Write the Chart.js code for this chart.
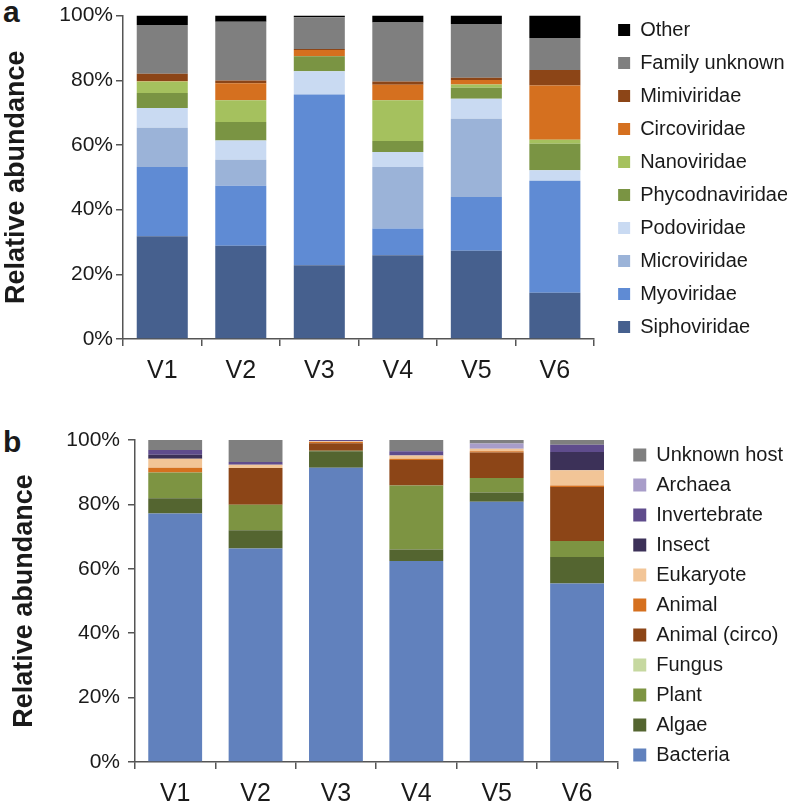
<!DOCTYPE html>
<html>
<head>
<meta charset="utf-8">
<script src="https://cdn.jsdelivr.net/npm/chart.js@4.4.1/dist/chart.umd.min.js"></script>
<style>
  html, body { margin: 0; padding: 0; background: #fff; }
  body { width: 787px; height: 808px; position: relative; overflow: hidden; font-family: "Liberation Sans", Arial, Helvetica, sans-serif; }
  canvas { position: absolute; left: 0; }
  #cA { top: 0; }
  #cB { top: 410px; }
  .panel { position: absolute; left: 3px; font-weight: bold; font-size: 30px; line-height: 30px; color: #1a1a1a; }
</style>
</head>
<body>
<div class="panel" style="top:-3px;">a</div>
<div class="panel" style="top:427px;">b</div>
<canvas id="cA" width="787" height="410"></canvas>
<canvas id="cB" width="787" height="398"></canvas>
<script>
// ---- shared ----
const categories = ['V1', 'V2', 'V3', 'V4', 'V5', 'V6'];
const yTickValues = [0, 20, 40, 60, 80, 100];
const yAxisTitle = 'Relative abundance';

// ---- panel a: viral families (% of reads) ----
const siphoviridae    = [31.8, 28.8, 22.8, 25.9, 27.3, 14.3];
const myoviridae      = [21.4, 18.6, 52.8,  8.3, 16.6, 34.6];
const microviridae    = [12.1,  8.0,  0.0, 19.0, 24.2,  0.0];
const podoviridae     = [ 6.1,  6.0,  7.2,  4.6,  6.2,  3.3];
const phycodnaviridae = [ 4.7,  5.7,  4.6,  3.4,  3.4,  8.2];
const nanoviridae     = [ 3.5,  6.7,  0.0, 12.6,  1.0,  1.2];
const circoviridae    = [ 0.2,  5.3,  2.0,  4.8,  1.4, 16.8];
const mimiviridae     = [ 2.2,  0.8,  0.3,  1.0,  0.7,  4.8];
const familyUnknown   = [15.1, 18.2,  9.8, 18.3, 16.6,  9.9];
const otherFamily     = [ 2.9,  1.9,  0.5,  2.1,  2.6,  6.9];

// ---- panel b: hosts (% of reads) ----
const bacteria     = [77.2, 66.3, 91.4, 62.4, 80.8, 55.4];
const algae        = [ 4.7,  5.7,  5.1,  3.6,  2.9,  8.3];
const plant        = [ 8.0,  7.9,  0.2, 19.9,  4.5,  4.9];
const fungus       = [ 0.0,  0.0,  0.0,  0.0,  0.0,  0.0];
const animalCirco  = [ 0.0, 11.4,  2.3,  7.9,  7.9, 16.8];
const animal       = [ 1.5,  0.0,  0.4,  0.4,  0.4,  0.5];
const eukaryote    = [ 2.8,  1.0,  0.2,  1.0,  0.8,  4.7];
const insect       = [ 1.2,  0.0,  0.0,  0.0,  0.0,  5.7];
const invertebrate = [ 1.5,  0.9,  0.4,  1.3,  0.0,  2.2];
const archaea      = [ 0.0,  0.0,  0.0,  0.0,  1.6,  0.0];
const unknownHost  = [ 3.1,  6.8,  0.0,  3.5,  1.1,  1.5];

const FONT = '"Liberation Sans", Arial, Helvetica, sans-serif';
const TXT = '#1a1a1a';
const AXIS = '#555555';

const legendShift = {
  id: 'legendShift',
  afterLayout(chart, args, opts) {
    const l = chart.legend;
    if (!l) return;
    l.left += opts.dx; l.right += opts.dx;
    l.top += opts.dy; l.bottom += opts.dy;
  }
};

function makeChart(id, datasets, cfg) {
  return new Chart(document.getElementById(id), {
    type: 'bar',
    data: { labels: categories, datasets: datasets },
    plugins: [legendShift],
    options: {
      responsive: false,
      animation: false,
      devicePixelRatio: 1,
      layout: { padding: { top: cfg.padTop, left: 0, right: 0, bottom: 0 } },
      datasets: { bar: { barPercentage: cfg.barPct, categoryPercentage: 1.0, borderWidth: 0 } },
      scales: {
        x: {
          stacked: true,
          offset: true,
          afterFit(s) { s.height = cfg.xHeight; },
          grid: { display: true, drawOnChartArea: false, drawTicks: true, tickLength: 7, offset: true, color: AXIS, lineWidth: 1.5 },
          border: { display: true, color: AXIS, width: 1.5 },
          ticks: { color: TXT, font: { family: FONT, size: 25 }, padding: 10 }
        },
        y: {
          stacked: true,
          min: 0, max: 100,
          afterFit(s) { s.width = cfg.yWidth; },
          afterBuildTicks(s) { s.ticks = yTickValues.map(v => ({ value: v })); },
          grid: { display: true, drawOnChartArea: false, drawTicks: true, tickLength: 7, color: AXIS, lineWidth: 1.5 },
          border: { display: true, color: AXIS, width: 1.5 },
          ticks: { color: TXT, font: { family: FONT, size: 21 }, padding: cfg.yTickPad, callback: v => v + '%' },
          title: { display: true, text: yAxisTitle, color: TXT, font: { family: FONT, size: 27, weight: 'bold' }, padding: { top: cfg.titlePad, bottom: 0 } }
        }
      },
      plugins: {
        tooltip: { enabled: false },
        legendShift: { dx: cfg.legDx, dy: cfg.legDy },
        legend: {
          position: 'right',
          align: 'start',
          reverse: true,
          maxWidth: cfg.legWidth,
          labels: {
            color: TXT,
            font: { family: FONT, size: 20 },
            boxWidth: cfg.box, boxHeight: cfg.box,
            padding: cfg.legPad
          }
        }
      }
    }
  });
}

const dsA = [
  ['Siphoviridae', siphoviridae, '#46608e'],
  ['Myoviridae', myoviridae, '#5f8bd4'],
  ['Microviridae', microviridae, '#9bb3d8'],
  ['Podoviridae', podoviridae, '#c9daf2'],
  ['Phycodnaviridae', phycodnaviridae, '#7a9443'],
  ['Nanoviridae', nanoviridae, '#a5c15e'],
  ['Circoviridae', circoviridae, '#d5701f'],
  ['Mimiviridae', mimiviridae, '#8c4517'],
  ['Family unknown', familyUnknown, '#7f7f7f'],
  ['Other', otherFamily, '#000000']
].map(([label, data, color]) => ({ label, data, backgroundColor: color }));

const dsB = [
  ['Bacteria', bacteria, '#6181bd'],
  ['Algae', algae, '#546530'],
  ['Plant', plant, '#7d9442'],
  ['Fungus', fungus, '#c6d8a0'],
  ['Animal (circo)', animalCirco, '#8c4517'],
  ['Animal', animal, '#d5701f'],
  ['Eukaryote', eukaryote, '#f2c597'],
  ['Insect', insect, '#3c3158'],
  ['Invertebrate', invertebrate, '#5f4c8c'],
  ['Archaea', archaea, '#a89dc9'],
  ['Unknown host', unknownHost, '#7f7f7f']
].map(([label, data, color]) => ({ label, data, backgroundColor: color }));

makeChart('cA', dsA, {
  padTop: 15, xHeight: 71, yWidth: 123, yTickPad: 3, titlePad: 0,
  barPct: 0.65, legWidth: 194, legPad: 13, box: 12, legDx: 11, legDy: -8
});

makeChart('cB', dsB, {
  padTop: 30, xHeight: 46, yWidth: 135, yTickPad: 8, titlePad: 8,
  barPct: 0.67, legWidth: 179, legPad: 10, box: 13, legDx: 6, legDy: -5
});
</script>
</body>
</html>
